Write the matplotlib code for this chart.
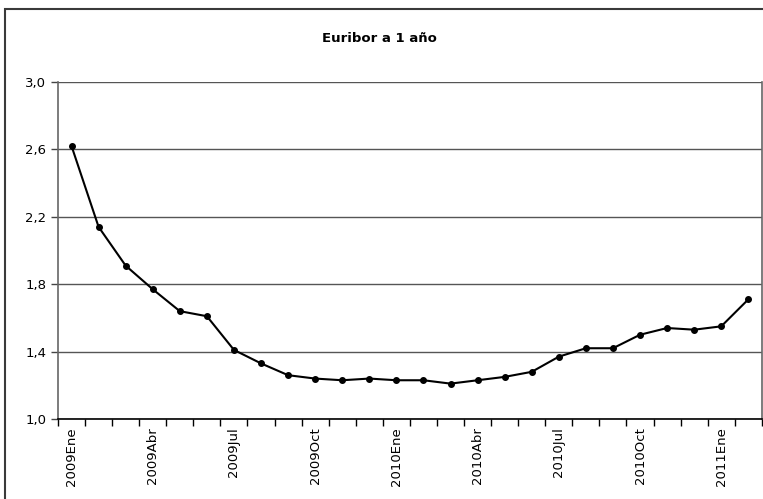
import matplotlib
matplotlib.use('Agg')
import matplotlib.pyplot as plt
import matplotlib.patches as patches
from matplotlib.ticker import FixedLocator, FuncFormatter

# Euribor 1 year, monthly averages
months = ['Ene', 'Feb', 'Mar', 'Abr', 'May', 'Jun',
          'Jul', 'Ago', 'Sep', 'Oct', 'Nov', 'Dic']
years = [2009, 2010, 2011]
values = [2.62, 2.14, 1.91, 1.77, 1.64, 1.61, 1.41, 1.33, 1.26, 1.24, 1.23, 1.24,
          1.23, 1.23, 1.21, 1.23, 1.25, 1.28, 1.37, 1.42, 1.42, 1.50, 1.54, 1.53,
          1.55, 1.71]
yticks = [1.0, 1.4, 1.8, 2.2, 2.6, 3.0]

labels = []
for y in years:
    for m in months:
        labels.append('%d%s' % (y, m))
labels = labels[:len(values)]
x = list(range(len(values)))

fig = plt.figure(figsize=(7.63, 4.99), dpi=100)
ax = fig.add_axes([0.076, 0.1603, 0.9225, 0.6754])

# outer chart frame (cropped at right and bottom)
fig.patches.append(patches.Rectangle((0.0066, -0.2), 1.2, 1.2 - 9 / 499,
                                     transform=fig.transFigure, fill=False,
                                     edgecolor='#3a3a3a', linewidth=1.5))

ax.plot(x, values, color='black', linewidth=1.5, marker='o', markersize=4)

ax.set_ylim(1.0, 3.0)
ax.set_xlim(-0.5, len(values) - 0.5)
ax.yaxis.set_major_locator(FixedLocator(yticks))
ax.yaxis.set_major_formatter(FuncFormatter(lambda v, p: ('%.1f' % v).replace('.', ',')))
ax.grid(axis='y', color='#555555', linewidth=1)
ax.set_axisbelow(True)

ax.set_xticks(x[::3])
ax.set_xticklabels(labels[::3], rotation=90, fontsize=9.5, va='top')
ax.set_xticks([i - 0.5 for i in range(len(values) + 1)], minor=True)
ax.tick_params(axis='x', which='major', length=0, pad=6)
ax.tick_params(axis='x', which='minor', length=5, width=1, color='black', direction='out')
ax.tick_params(axis='y', length=5, width=1, labelsize=9.5, color='#444444')

for s in ['left', 'right']:
    ax.spines[s].set_color('#666666')
    ax.spines[s].set_linewidth(1.2)
ax.spines['top'].set_visible(False)
ax.spines['bottom'].set_color('black')
ax.spines['bottom'].set_linewidth(1.2)

fig.text(0.497, 1 - 39 / 499, 'Euribor a 1 año', ha='center', va='center',
         fontsize=9.5, fontweight='bold')

fig.savefig('out.png', dpi=100)
